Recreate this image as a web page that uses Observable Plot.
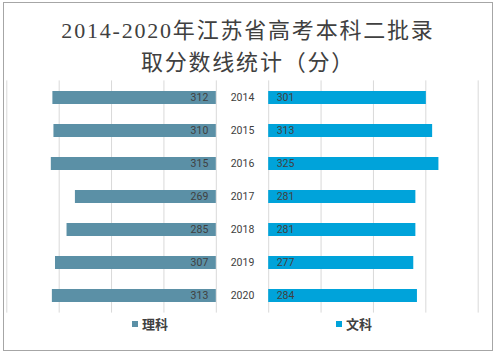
<!DOCTYPE html>
<html>
<head>
<meta charset="utf-8">
<script src="https://cdn.jsdelivr.net/npm/d3@7"></script>
<script src="https://cdn.jsdelivr.net/npm/@observablehq/plot@0.6"></script>
<style>
  html, body { margin: 0; padding: 0; background: #fff; }
  #wrap { position: relative; width: 496px; height: 355px; overflow: hidden; }
  #border { position: absolute; left: 3px; top: 2px; width: 488px; height: 347px; border: 1px solid #a6a6a6; }
  .title { position: absolute; left: 0; width: 496px; text-align: center; white-space: nowrap;
    font-family: "Liberation Serif", "Noto Sans CJK SC", serif; font-size: 22px; letter-spacing: 1.8px;
    line-height: 26px; height: 26px; color: #404040; }
  #chart { position: absolute; left: 0; top: 78px; }
  .leg { position: absolute; top: 315px; font-family: "Noto Sans CJK SC", sans-serif; font-size: 13px;
    line-height: 17px; color: #404040; font-weight: bold; white-space: nowrap; }
  .sw { display: inline-block; width: 6px; height: 6px; margin-right: 4px; vertical-align: 2px; }
</style>
</head>
<body>
<div id="wrap">
  <div id="border"></div>
  <div class="title" style="top:18px">2014-2020年江苏省高考本科二批录</div>
  <div class="title" style="top:50px">取分数线统计（分）</div>
  <div id="chart"></div>
  <div id="legend"></div>
</div>
<script>
const years = ["2014", "2015", "2016", "2017", "2018", "2019", "2020"];
const like = [312, 310, 315, 269, 285, 307, 313];   // 理科
const wen = [301, 313, 325, 281, 281, 277, 284];    // 文科
const gridTicks = [0, 100, 200, 300, 400];
const seriesNames = ["理科", "文科"];
const colors = ["#5b90a6", "#00a3da"];

const gap = 50; // half-gap (in value units) between the two panels
const leftData = years.map((y, i) => ({year: y, v: like[i]}));
const rightData = years.map((y, i) => ({year: y, v: wen[i]}));

const chart = Plot.plot({
  width: 496,
  height: 240,
  marginTop: 2.4,
  marginBottom: 5.4,
  marginLeft: 6.3,
  marginRight: 18.3,
  x: {domain: [-450, 450], axis: null},
  y: {domain: years, paddingInner: 0.6, paddingOuter: 0.3, axis: null},
  style: {fontFamily: "Roboto, sans-serif", fontSize: "10.5px", color: "#404040", background: "transparent"},
  marks: [
    Plot.ruleX(gridTicks, {x: t => -gap - t, stroke: "#d9d9d9", strokeWidth: 1}),
    Plot.ruleX(gridTicks, {x: t => gap + t, stroke: "#d9d9d9", strokeWidth: 1}),
    Plot.barX(leftData, {y: "year", x1: () => -gap, x2: d => -gap - d.v, fill: colors[0]}),
    Plot.barX(rightData, {y: "year", x1: () => gap, x2: d => gap + d.v, fill: colors[1]}),
    Plot.text(leftData, {y: "year", x: () => -gap, text: d => String(d.v), textAnchor: "end", dx: -8, fill: "#404040"}),
    Plot.text(rightData, {y: "year", x: () => gap, text: d => String(d.v), textAnchor: "start", dx: 8, fill: "#404040"}),
    Plot.text(years, {y: d => d, x: () => 0, text: d => d, textAnchor: "middle", fill: "#404040"})
  ]
});
document.getElementById("chart").appendChild(chart);

const legend = document.getElementById("legend");
const legX = [132, 336];
seriesNames.forEach((name, i) => {
  const el = document.createElement("div");
  el.className = "leg";
  el.style.left = legX[i] + "px";
  el.innerHTML = `<span class="sw" style="background:${colors[i]}"></span>${name}`;
  legend.appendChild(el);
});
</script>
</body>
</html>
